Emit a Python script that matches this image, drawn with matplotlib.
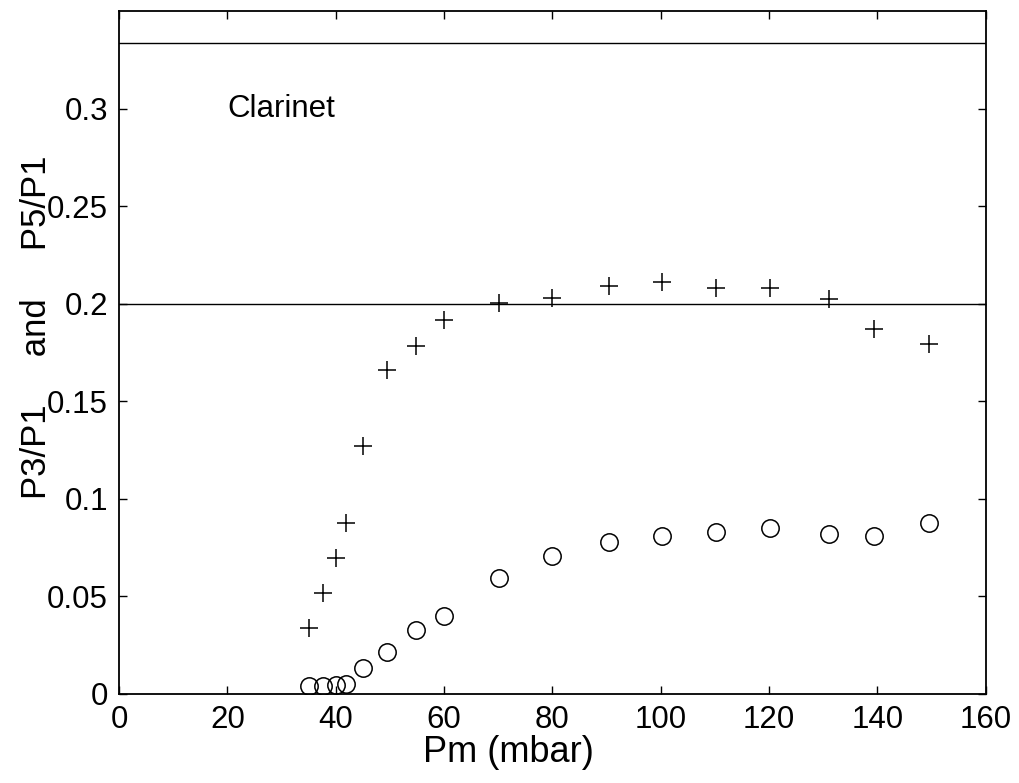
import matplotlib
matplotlib.use("Agg")
import matplotlib.pyplot as plt

# Blowing pressure (mbar) and harmonic amplitude ratios for the clarinet
pm_mbar = [35.1, 37.7, 40.0, 41.8, 45.1, 49.5, 54.8, 59.9, 70.2, 79.9,
           90.5, 100.2, 110.2, 120.2, 131.1, 139.3, 149.6]
p3_over_p1 = [0.0039, 0.0039, 0.0045, 0.0050, 0.0133, 0.0215, 0.0327, 0.0400,
              0.0595, 0.0706, 0.0779, 0.0810, 0.0831, 0.0851, 0.0819, 0.0810,
              0.0874]
p5_over_p1 = [0.0338, 0.0515, 0.0697, 0.0874, 0.1270, 0.1660, 0.1785, 0.1916,
              0.2005, 0.2031, 0.2091, 0.2113, 0.2079, 0.2079, 0.2023, 0.1869,
              0.1792]

# Reference levels 1/3 and 1/5
ref_levels = [1 / 3, 1 / 5]

x_ticks = [0, 20, 40, 60, 80, 100, 120, 140, 160]
y_ticks = [0, 0.05, 0.1, 0.15, 0.2, 0.25, 0.3]
y_tick_labels = ["0", "0.05", "0.1", "0.15", "0.2", "0.25", "0.3"]

plt.rcParams["font.family"] = ["Liberation Sans", "DejaVu Sans"]

fig = plt.figure(figsize=(10.19, 7.83), dpi=100)
ax = fig.add_axes([0.1169, 0.1140, 0.9673 - 0.1169, 0.9860 - 0.1140])

for level in ref_levels:
    ax.axhline(level, color="black", linewidth=1.0)

ax.plot(pm_mbar, p5_over_p1, linestyle="none", marker="+", markersize=12.5,
        markeredgewidth=1.1, color="black")
ax.plot(pm_mbar, p3_over_p1, linestyle="none", marker="o", markersize=12.5,
        markeredgewidth=1.1, markerfacecolor="none", markeredgecolor="black")

ax.text(20, 0.3, "Clarinet", fontsize=22.5, ha="left", va="center")

ax.set_xlim(0, 160)
ax.set_ylim(0, 0.35)
ax.set_xticks(x_ticks)
ax.set_xticklabels([str(v) for v in x_ticks])
ax.set_yticks(y_ticks)
ax.set_yticklabels(y_tick_labels)

ax.tick_params(direction="in", length=6, width=1.0, top=True, right=True,
               labelsize=22.5, pad=8)
for spine in ax.spines.values():
    spine.set_linewidth(1.3)

ax.set_xlabel("Pm (mbar)", fontsize=26)
ax.xaxis.label.set_verticalalignment("center")
ax.xaxis.set_label_coords(0.449, -0.0854)

ax.set_ylabel("P3/P1     and     P5/P1", fontsize=25)
ax.yaxis.label.set_verticalalignment("center")
ax.yaxis.set_label_coords(-0.0955, 0.537)

fig.savefig("out.png", dpi=100)
